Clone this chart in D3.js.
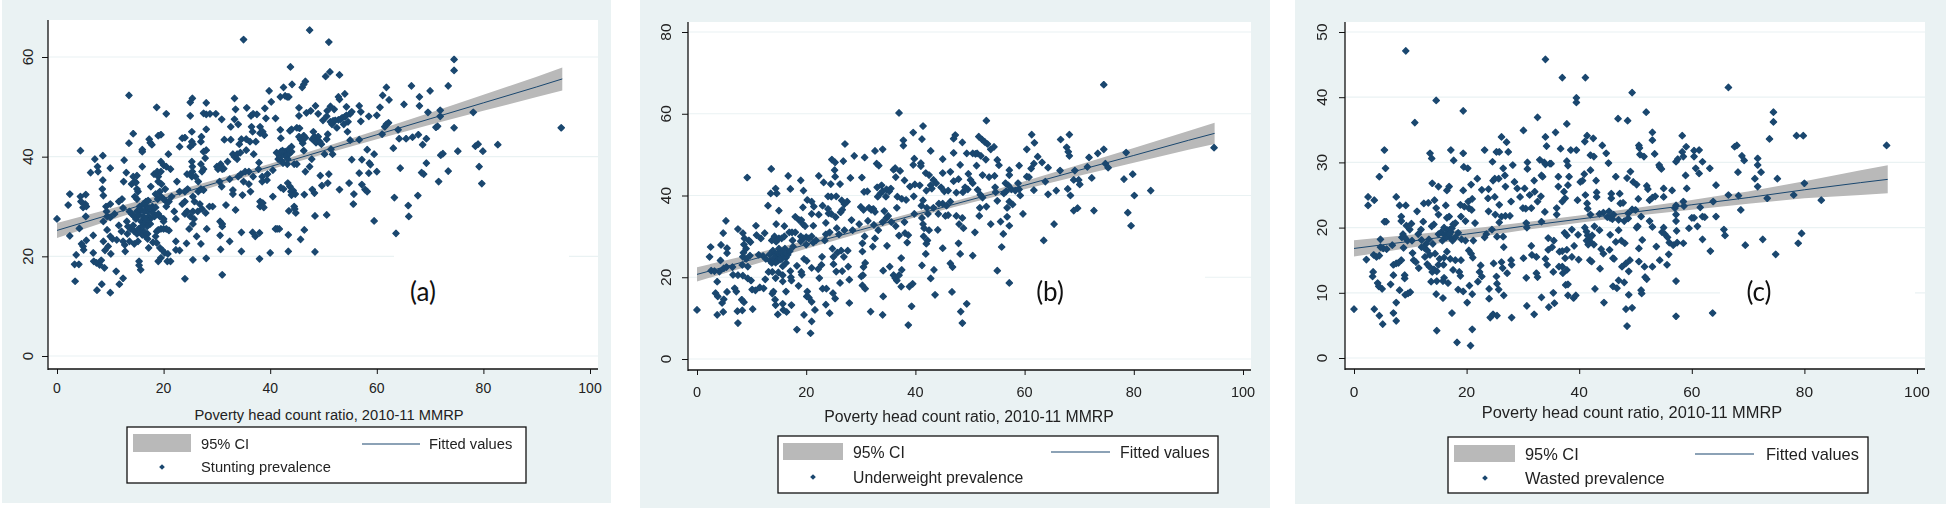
<!DOCTYPE html>
<html><head><meta charset="utf-8">
<script src="https://cdn.jsdelivr.net/npm/d3@7/dist/d3.min.js"></script>
<style>html,body{margin:0;padding:0;background:#fff}svg{display:block;filter:blur(0.35px)}text{font-family:"Liberation Sans",Arial,sans-serif;fill:#222}</style>
</head><body><div id="c"></div>
<script>
const xTicks=[0,20,40,60,80,100];
const xTitle="Poverty head count ratio, 2010-11 MMRP";
const ciKnots=[0,10,20,30,40,50,60,70,80,90,94.8];

const fitA=[25.2,28.4,31.6,34.8,38,41.2,44.4,47.6,50.8,54,55.6];
const ciLowA=[23.7,27.25,30.75,34.15,37.4,40.5,43.5,46.4,49.2,51.95,53.3];
const ciHighA=[26.7,29.55,32.45,35.45,38.6,41.9,45.3,48.8,52.4,56.05,57.9];
const ticksA=[0,20,40,60];
const stunting=[[0,27.5],[2.1,30.3],[2.4,32.5],[2.4,24.1],[3.4,15],[3.6,20.3],[3.3,18.4],[4.1,18.4],[4.2,25.6],[4.4,41.2],[4.4,32],[4.5,31],[4.9,29.8],[5.4,32.4],[5.3,30.5],[5.4,28],[5.5,30],[4.6,22.5],[4.9,22],[5,21.3],[5.5,23.2],[6.3,36.8],[6.8,24.2],[6.8,20.7],[6.9,19],[7.1,39.5],[7.4,18.7],[7.5,13.2],[7.6,38],[7.7,37],[8,18.3],[8.3,19.2],[8.4,14.4],[8.5,33.5],[8.6,40.2],[8.6,35.3],[8.7,32.2],[8.7,27],[8.9,17.7],[8.7,23],[9,21.2],[9.2,30],[9.3,29],[9.4,28],[9.4,25.3],[9.6,22],[10,37.7],[10,30.5],[10,27.8],[10,24],[10.1,20.5],[10,12.7],[10.4,23.5],[10.8,28.5],[11.2,23.3],[11.1,17],[11.6,26.2],[11.6,31],[11.7,14.4],[12.1,25],[12.2,31.5],[12.4,29.7],[12.4,23],[12.4,15.6],[12.5,35],[12.6,39.3],[12.7,22.3],[12.8,21],[13,36.8],[13.1,27],[13.2,24.5],[13.5,52.3],[13.5,42.7],[14.3,44.6],[14,34.5],[14.3,36],[14.6,35],[14.8,34.8],[15,36.2],[15,33.5],[15.2,33],[14.6,32],[15,31.5],[13.6,29],[14,28.5],[14.5,28],[14.8,27.5],[15,29],[15.4,28.3],[15.8,27],[13.3,26],[13.8,25.5],[14.3,26.2],[14.5,25],[15,24.5],[15.3,25.5],[15.7,25],[16,24.3],[16.3,25],[16.6,24],[17,24.5],[17,23.5],[13.6,23],[14.5,22.5],[15.2,23],[15.4,19],[15.4,18.2],[15.7,17.3],[16,38],[16,41.4],[16,41],[16.7,31],[16.8,30],[17,29],[17.2,28],[17.5,27.5],[17,27],[17.5,26.5],[17.9,30],[18,29.5],[18,28.7],[18.3,28],[18.5,29.8],[15.5,30],[15.8,29.3],[16.2,30.5],[16.4,29],[16.2,28],[16.6,27.5],[16.3,26.5],[16.9,26],[15.9,26],[17.3,29.7],[17.3,43.5],[17.5,42.8],[17.8,42.4],[17.1,31.2],[17.6,34],[18.2,36.5],[18.8,37],[19,36],[19,35],[19.5,37],[19.6,34.5],[19.3,33],[18.9,31.5],[18.5,32.5],[19.5,32],[20,31.5],[20.5,31],[20.3,33.5],[18.7,49.9],[19,44.2],[19.5,44.4],[20.5,48.6],[20.9,40.5],[19.5,39],[20,38.3],[20.5,38],[21.3,37.5],[19,28.5],[19.3,28],[20,27.5],[20,27],[20.5,30],[21,31],[21.5,32],[18.7,25],[19,25.3],[19.5,25.5],[20,25.5],[20.5,25.5],[21,25.2],[18.5,24],[18,22.8],[18.7,22.7],[17.2,21.7],[19.3,21.7],[19.8,21.2],[20.2,20.7],[20.8,20.5],[19,19],[19.5,19.7],[20.7,19],[21.3,19],[22,29],[22.3,27.5],[22.5,35],[22.3,23],[22.3,21.3],[23,21.2],[23,42],[23,33],[23.5,30.5],[24,33],[24,31],[24,28.5],[23.5,43.7],[24,43.8],[24.5,33.5],[24.4,36.5],[25,36.5],[25.3,36],[24.3,22.6],[24,15.5],[24.4,29],[25,28],[25,42],[25.3,43],[25.5,42.5],[25.3,45],[25,50.9],[25.4,51.7],[25,48.2],[25.3,39],[25.4,38],[25.4,37],[26,36],[25.5,32],[25.8,31],[25.5,29],[25.7,27.5],[25.5,26.5],[24.8,25.5],[25.5,19.3],[26.4,29],[26.5,35],[26.5,33],[26.2,24],[27.1,44],[27,43],[27,38.5],[27.2,37],[27.5,37.5],[27,33.5],[27.5,33.3],[26.8,30.5],[27.2,29.5],[27,22.5],[27.5,41],[27.8,39.7],[27.5,48.7],[28,48.5],[28,50.8],[28,45.5],[28,41.3],[28,19.6],[28.1,25.5],[27.9,28.7],[28.7,48.6],[28.6,30],[29.2,30],[29.8,48.6],[30,38],[30.2,37.5],[30.7,38.5],[31,37.5],[30.5,35],[30.9,34],[30.6,27],[31,26.5],[31,26],[30.6,24.2],[30.7,21.4],[31,16.3],[30.9,47.5],[31.3,37.6],[31.4,43.4],[31.7,30.3],[32.4,23],[32.4,35.5],[32,39],[32.6,43.4],[32.6,46],[33,40.5],[33,33.3],[33,32.5],[33.3,40],[33.3,47.5],[33.5,49.5],[33.3,51.7],[33.5,29.3],[33.8,40.5],[33.8,39.5],[34,46.5],[34,36],[34.2,42.5],[34.4,40.8],[34.6,43.5],[34.5,36.5],[34.8,32.3],[34.6,24.8],[34.6,21],[35,63.5],[35,35],[35.3,37],[35.5,43.5],[35.5,41.3],[35.6,49.8],[36,34.5],[36,37],[36.2,43],[36.3,33],[36.4,48.2],[36.5,46],[36.7,45],[36.7,24.8],[36.8,48.6],[36.8,36],[36.9,40.5],[37.3,43],[37.2,24],[37.5,48.5],[37.8,37.5],[37.9,38.8],[38,24.7],[38,19.5],[38.1,46],[38.1,44.7],[38.1,31],[38.1,30],[38.6,30.7],[38.8,29.8],[38.5,36],[38.5,35],[38.6,45],[38.9,44.3],[39,49.7],[39.2,47.7],[39.5,36.5],[39.4,35.3],[39.8,53.2],[40,20.7],[40.2,51],[40.5,32],[40.5,37.3],[41,47.7],[41,25.5],[41.2,40.8],[41.3,25.5],[41.7,25.5],[41.9,52],[42,33.8],[41.9,45.4],[42,43.7],[42.5,33.5],[42.6,40.5],[42.8,41],[43,40],[43.3,39.5],[43.2,38.5],[43.5,40.5],[43.5,41.5],[44,42],[44,41],[44,45.5],[43.7,45.2],[42.8,52.2],[43.2,52],[43.5,52],[43.4,24.3],[43.4,21],[43.3,34.7],[43.7,34],[43.9,33],[44,32.3],[44.3,33.2],[44.7,32.5],[44.5,30],[44.6,29.5],[44.5,38.5],[45,38.5],[45,45.8],[45.5,45.7],[45.7,23.4],[45.4,49.8],[45.4,48.2],[44.1,54.5],[42.5,53.9],[43.8,58],[46,53.9],[46.6,55.1],[43.5,29.1],[44.8,28.7],[41.5,39.5],[41.8,40],[42.1,39.2],[42.3,41.2],[42.4,38.7],[42,41],[45.4,44],[45.7,43.5],[46,43.2],[46.3,44.2],[46.6,43.8],[46.1,42.7],[46.3,41.2],[46.3,54.5],[46.8,48.8],[46.4,32.4],[46.4,25.3],[46.6,37],[47.4,65.4],[47.6,49.2],[47.4,38],[47.8,39.5],[47.9,43.5],[47.9,33.4],[48.3,32.7],[48.1,45],[48.3,44],[48.5,50.2],[48.5,43.2],[48.6,42.8],[48.4,28.1],[48.4,20.9],[49,48.6],[49.3,43],[49,44],[49.6,42.5],[49.9,47.3],[49.7,34.2],[49.4,36.2],[50.6,48.1],[50.7,49.2],[50.6,43.5],[50.2,40.5],[50.6,28.3],[50.8,34.7],[51,36.5],[51,63],[51.2,57],[50.4,56.1],[53,56.4],[51.3,50.1],[50.8,44.5],[51.4,41.5],[51.7,40.5],[51.3,47],[51.6,46.5],[51.8,47.2],[52,49.5],[52.2,47.3],[52.5,45.8],[52.8,52],[53,51.5],[52.8,47.4],[53.2,47.5],[53,33.4],[53.5,47.8],[53.8,46.5],[54,52.6],[54,48],[54.3,48.3],[54.3,50],[54.6,47],[54.8,34.7],[54.5,45],[55,43.3],[55,48.6],[55.3,39.4],[55.3,49],[55.6,30.5],[55.7,32.5],[56.7,50.2],[57,49],[57,47.1],[56.7,43.4],[57.2,39.4],[56.7,36.7],[57.2,34.4],[57.8,33.4],[58.2,33],[58.5,48.1],[58.2,41.4],[58.6,38.7],[58.8,38.4],[58.5,36.7],[59.5,40.5],[59.5,27.1],[60,37],[60,48.3],[60.6,49.9],[61.1,52.3],[61.8,53.9],[62.3,51.4],[63.1,41.7],[63.3,31.8],[63.6,24.6],[64,45.4],[64.4,37.7],[64.2,43.6],[65.1,50.5],[65.5,43.6],[65.9,30.2],[66,28],[66.5,54.2],[66.7,43.9],[67.8,44.4],[67.7,32.2],[68,52],[68,50.2],[68.6,42.4],[69.3,43.6],[68.4,36.8],[68.8,36.5],[69.3,38.7],[69.6,48.9],[70,53.2],[71.1,45.9],[71.4,46.1],[71.9,49.3],[71.9,48.1],[71.6,35],[72,40.3],[72.4,40.6],[73.4,37.1],[73.4,54.2],[74.5,59.5],[74.5,57.3],[74.5,45.8],[75.2,41.1],[78.1,48.9],[78.5,42.1],[79,42.5],[79.2,38],[79.7,34.6],[79.9,41.1],[82.7,42.4],[94.6,45.8],[61,44.5],[61.5,46],[61.8,46.5],[62.2,46.8]];

const fitB=[20.7,24.3,28,31.6,35.3,38.9,42.5,46.2,49.8,53.5,55.2];
const ciLowB=[18.95,22.95,27,30.85,34.65,38.15,41.5,44.85,48,51.2,52.6];
const ciHighB=[22.45,25.65,29,32.35,35.95,39.65,43.5,47.55,51.6,55.8,57.8];
const ticksB=[0,20,40,60,80];
const underweight=[[0,12],[2.3,25],[2.5,27.4],[3.7,10.8],[3.7,18.9],[3.4,16.1],[3.8,15.3],[2.6,21.6],[3.2,21.5],[4.4,27.9],[4.3,24.1],[4.1,21.4],[4.8,30.8],[5.3,33.8],[5.5,27.1],[5.5,25.9],[4.8,11.5],[4.6,13.7],[4.9,14.6],[5.5,16.4],[5.4,22.5],[4.9,22.2],[6.5,22.5],[6.6,20.6],[6.9,17.3],[7.2,16.5],[7.5,20.5],[7.5,8.8],[7.5,31.8],[7.4,11.7],[8.3,11.9],[8.2,14.5],[8.6,13.9],[8.4,20.4],[8.3,23],[8.4,25],[8.5,26],[8.6,28],[8.7,29.5],[8.4,30.8],[9.2,44.4],[9,27],[9,24.5],[9.3,22.6],[9.3,19.7],[9.5,29],[9.7,25.3],[9.8,28.6],[9.9,19.2],[10.1,17],[10.2,12.2],[10.8,32.6],[10.9,30.3],[10.7,16.8],[11.3,25.5],[11.5,17.5],[11.7,29.5],[12.1,25.2],[12.2,17.3],[12.4,30.8],[12.5,19.5],[12.6,24.5],[13,37.5],[13.1,21.3],[13.3,25.6],[13.4,24],[13.6,46.5],[13.5,40.5],[13.7,29],[13.7,23.5],[13.8,21.3],[13.8,16],[14,16.5],[14.4,41.7],[14.6,40.5],[14.5,33],[14.2,30],[14.5,28.7],[14.3,25.8],[14.5,24.7],[14.7,25.5],[14.9,25.9],[15,36.3],[15,29.5],[15,27],[14.9,21.2],[14.4,19.8],[14.3,14.5],[14.4,13.2],[14.8,10.9],[15.1,26.1],[15.3,25.5],[15.5,29.5],[15.5,24.5],[15.7,22.7],[15.7,20.5],[15.7,19],[15.7,13.5],[15.8,12],[13.9,26.5],[14.1,24.8],[14.8,24],[15.2,24.3],[15.6,26],[16,25.4],[16.3,24.8],[16.6,25.5],[14.4,23.6],[16,32.5],[16,30],[16.1,27],[16.2,26.2],[16.3,23.5],[16.3,16.5],[16.4,11.5],[16.7,44.8],[16.9,31],[17,26.4],[17.1,41.6],[17.1,21.5],[17.2,20],[17.4,31],[17.5,29],[17.6,27.5],[17.3,19.2],[17.3,13.2],[18,34.8],[18,31],[18.3,22.8],[18.3,7.2],[18.7,34],[18.6,17.9],[19,43.7],[19.1,34],[19,30],[19,28.8],[19.1,21.3],[19.2,20.6],[19.4,37.1],[19.5,41.2],[19.4,33],[19.5,29.5],[19.6,24.5],[19.6,10.8],[19.8,32.5],[20,29.8],[20,28],[20.1,24],[20.1,15.3],[20.2,38.9],[20.2,16.5],[20.5,29.5],[20.5,15],[20.8,6.3],[21,38.5],[21,35.5],[21,30],[21,22.3],[21,14],[21,9.2],[21.3,32.6],[21.3,28.5],[21.4,37.3],[21.6,12],[21.8,29],[22.2,22],[22.3,44.8],[22.3,35.3],[22.4,19.8],[22.8,23],[22.9,25],[23,17.2],[23.2,43.2],[23,37.5],[23.4,29],[23.6,33.3],[23.6,30.5],[23.7,17.2],[23.6,13.3],[24,39.8],[24,36.7],[24.1,35.6],[24.3,31],[24.3,11.2],[24.5,42.8],[24.7,48.8],[24.6,39.7],[24.6,35.5],[24.8,27],[24.9,16.1],[25,25],[25,23.2],[25.2,46.2],[25.3,48.1],[25.3,44.6],[25.5,39.8],[25.4,34.7],[25.5,21.4],[25.3,14.8],[25.6,32],[25.7,26],[26,30.5],[26.2,42.8],[26.2,18.6],[26.3,35.9],[26.5,38.8],[26.4,26.5],[26.6,36.5],[26.6,21.5],[26.8,48.4],[27,37.9],[27,31.5],[26.9,25],[27.1,52.6],[27.5,38.5],[27.6,26.5],[27.7,22.6],[27.9,19.4],[27.9,13.7],[28.1,44.3],[28.3,34],[28.5,31.5],[28.8,49.7],[29.7,33],[30,37.2],[30.2,44.4],[30.1,20.2],[30.3,26.3],[30.3,28.3],[30.3,18],[30.4,20.5],[30.6,40.9],[30.5,36.5],[30.5,22.5],[30.7,49.3],[30.7,30],[30.8,23.5],[30.8,17.2],[31.2,41],[31.3,33.8],[31.5,37],[31.8,11.6],[31.9,36.5],[32.2,27.5],[32.3,36.7],[32.4,32.8],[32.6,50.9],[32.6,29.5],[32.6,36],[32.9,47.8],[33.3,47.3],[33,42],[33.1,39.7],[33.2,31.5],[33.6,40.5],[33.8,42.5],[34,51.3],[34,41],[34,33.5],[34.1,21.6],[34,10.8],[34.1,15.3],[34.3,36.2],[34.6,39.7],[34.7,41.5],[34.7,34.5],[34.8,27.7],[35,35],[35.2,41],[35.3,22.6],[35.5,41.7],[35.6,33.5],[36,46.3],[36,20.5],[36.3,46.7],[36.4,44.5],[36.4,32.5],[36.3,19.8],[36.6,19.2],[36.7,39.7],[36.6,37],[37,60.2],[37,30.2],[37,20.5],[37.2,46],[37.4,24.7],[37.4,17.7],[37.5,39.2],[37.5,21.8],[37.8,53.5],[37.8,52.2],[38,43.7],[38,33.5],[38.1,30.8],[38.3,38.9],[38.7,30.3],[38.5,28.5],[38.7,8.3],[38.9,17.7],[39,42.2],[39.3,12.9],[39.5,18.4],[39.6,55.4],[39.6,47.5],[39.8,49],[39.7,39.8],[39.9,42.7],[39.8,35.5],[40.8,42.5],[41,47.9],[41,47.2],[41.1,37.5],[41.2,53.8],[41.2,34.5],[41.2,22.9],[41.4,57],[41.4,38.8],[41.4,33],[41.5,30],[41.6,32],[41.9,25.7],[41.9,45.5],[42,41.2],[42.1,37],[42.3,35.5],[42.2,29],[42,28.2],[42.5,45],[42.5,31.5],[42.8,50.9],[42.8,42.5],[42.8,19.7],[43,41.7],[43.3,43.8],[43.3,37],[43.4,21.8],[43.6,15.7],[43.8,43],[44.1,31.6],[44.2,35.5],[44.3,38],[44.7,42],[45,48.9],[45,45.5],[45,27.1],[45,38],[45.3,41],[45.5,35],[45.7,37.5],[46,41.2],[46,35.2],[46.4,38.5],[46.4,45.8],[46.4,23.4],[46.7,16.4],[46.8,22.5],[47,53.9],[47,50.4],[47,43.5],[47.3,54.8],[47.5,40.7],[47.5,35],[47.9,44],[47.9,28.3],[48.2,47.5],[48.2,25.7],[48,33],[48.3,11.6],[48.6,53],[48.6,8.8],[48.6,34.5],[48.7,40.8],[48.8,32],[49.1,42],[49.4,50.3],[49.4,13.5],[49.6,41.5],[49.7,45.3],[50.1,43.8],[50.5,50.3],[50.5,25.3],[50.5,43],[50.9,31],[51,50.2],[51.2,47.3],[51.3,50.3],[51.4,41.4],[51.6,54.4],[51.7,35],[51.8,37],[51.9,40.2],[52,49.7],[52.2,53.7],[52.3,45],[52.3,39.5],[52.7,53.1],[52.9,48.8],[53,58.3],[53,37.3],[53.2,52.6],[53.5,44.5],[53.8,51.3],[53.8,33],[54.4,51.9],[54.5,44.8],[54.6,42],[54.7,40.8],[55,48.7],[55,38.7],[55,21.6],[55.3,47.4],[55.6,33.6],[55.8,27.4],[56.1,30.6],[56.2,40.5],[56.5,43],[56.6,41],[56.8,37],[56.8,34.8],[57,42.5],[57.2,46.2],[57.2,45],[57.2,38.5],[57.2,32.6],[57.2,18.6],[57.6,41.5],[57.8,37.8],[58.3,41.2],[58.8,43],[59,47.3],[59,41.5],[59.2,40],[59.7,35.5],[60.4,51.3],[60.4,44.6],[60.8,44.5],[61.2,46.6],[61.3,54.9],[61.7,47.8],[61.7,41.3],[61.8,52.9],[62.4,49.5],[63.2,48.1],[63.5,29],[63.8,43.4],[64.3,46.8],[64.3,40.3],[65.4,33],[65.8,41.2],[66.5,46.1],[66.6,53.7],[67.7,51.8],[67.9,41.6],[68,50.7],[68.2,54.9],[68.2,49.7],[68.4,40],[69,36.3],[69,43.8],[69.2,46.1],[69.7,36.9],[69.9,43.8],[70.1,42.7],[71.5,47],[71.8,49.3],[72.3,44.3],[72.7,36.3],[73.4,50.3],[74.5,67.1],[74.5,51.3],[74.8,47.8],[75.3,46.8],[78.2,44],[78.6,50.5],[78.9,35.8],[79.5,32.6],[79.8,45.2],[80.1,40],[83.1,41.2],[94.7,51.7]];

const fitC=[16.8,17.9,19,20.2,21.3,22.4,23.5,24.6,25.8,26.9,27.4];
const ciLowC=[15.55,16.9,18.25,19.6,20.75,21.8,22.75,23.65,24.5,25,25.25];
const ciHighC=[18.05,18.9,19.75,20.8,21.85,23,24.25,25.55,27.1,28.8,29.55];
const ticksC=[0,10,20,30,40,50];
const wasted=[[0,7.5],[2.2,15.1],[2.5,24.7],[2.5,23.4],[3.3,12.5],[3.4,13.2],[3.5,15.8],[3.6,24.2],[3.6,7.5],[4,15.5],[4.2,11.5],[4.4,11],[4.5,6.5],[4.5,15.7],[4.5,27.8],[4.7,18.2],[4.7,17],[5,10.6],[5.1,5.2],[5.2,16.8],[5.4,31.9],[5.4,20.9],[5.6,29.1],[5.7,20.9],[5.8,16.7],[6.5,11.3],[6.8,17.3],[7,12.7],[7,6.9],[7,14.3],[7.5,14.5],[7.5,5.7],[7.5,8.5],[7.5,24.7],[7.9,14.6],[8.1,23.4],[8.1,10.4],[8.4,21.7],[8.4,21],[8.4,15],[8.5,18.5],[8.7,19],[8.8,16.9],[9,18.5],[9,12.2],[9,12.7],[9.1,9.7],[9.2,47.1],[9.2,23.4],[9.3,20.3],[9.5,18],[9.6,9.9],[9.9,19.7],[10,10.1],[10.2,20.6],[10.3,18],[10.4,16.1],[10.6,15],[10.8,36.1],[11,14.7],[11.2,22.5],[11.4,19],[11.5,13.8],[11.9,19.7],[12,18.1],[12,17],[12.3,20.9],[12.4,23.7],[12.5,16.9],[12.6,15.5],[12.8,17.5],[13,14.4],[13,16.5],[13.2,23.8],[13.3,18.2],[13.5,31.4],[13.4,14],[13.5,15.8],[13.7,11.7],[13.8,30.6],[13.9,26.8],[13.8,20.2],[13.9,13.2],[14,17.5],[14.3,24.2],[14.2,20.5],[14.2,13.6],[14.4,16],[14.6,39.5],[14.6,23],[14.7,4.2],[14.6,9.8],[14.7,13.3],[14.7,11.8],[15,26.3],[15,22],[15,19],[15,14.3],[15.2,15.2],[15.5,19.3],[15.7,18],[15.8,9.2],[15.8,11.8],[15.9,14.3],[16,15.4],[16,12.3],[16,20],[16.2,18.8],[16.6,19.6],[16.9,18.6],[17.2,19.3],[17.4,19.9],[16.3,23.4],[16.3,19],[16.4,18.5],[16.5,25.7],[16.5,21.5],[16.5,16.3],[16.7,11.5],[16.9,26.3],[16.9,21.7],[17,19.7],[17,19],[17.2,31.9],[17.1,15.2],[17.4,6.9],[17.5,18],[17.6,13.5],[17.6,20.5],[17.7,30.3],[18,18.5],[18,15],[18,20.7],[18.3,2.4],[18.5,19.2],[18.5,10.5],[18.7,13.2],[18.9,23.5],[18.9,12.6],[19,21.7],[19.1,18.2],[19,15],[19.4,37.9],[19.4,31.4],[19.4,25.7],[19.4,10.2],[19.5,29.3],[19.6,23.2],[19.8,21],[19.8,18],[20.1,8.5],[20.2,29.1],[20.3,24],[20.4,23],[20.4,16.5],[20.5,11.1],[20.7,1.9],[20.8,26.6],[20.8,16],[20.9,22.7],[21,24.4],[21,4.4],[21,9.8],[21.1,15.4],[21.2,18],[21.5,20.7],[21.9,27.5],[22,11.7],[22.3,13.2],[22.5,14.2],[22.7,25.8],[22.7,12.5],[23.2,31.9],[23.2,18.5],[23.5,19],[23.8,24.5],[23.9,25.9],[23.9,22.5],[24,10.6],[24,9.1],[24.2,6.2],[24.5,19.7],[24.6,30.1],[24.7,27.2],[24.7,6.7],[24.8,14.5],[25,27.5],[25,24.7],[25.1,22],[25.3,31.6],[25.3,12.5],[25.4,18.6],[25.4,11.4],[25.4,6.5],[25.8,31.6],[25.7,27.5],[25.8,23.5],[25.8,20.8],[25.7,10.5],[26.2,33.9],[26.2,14.7],[26.2,21.7],[26.4,13.8],[26.5,29.1],[26.5,18.6],[26.6,17],[26.6,9.6],[26.8,28],[26.9,21.8],[26.9,26.3],[27.1,33.1],[27.2,13],[27.4,31.6],[27.7,21.8],[27.9,24],[27.9,15],[28,14.3],[28,6.2],[28.2,29.6],[28.5,27],[29,26],[29.5,24.7],[30,23],[30.1,34.9],[30.1,15.3],[30.3,26],[30.5,22.9],[30.6,20.7],[30.6,12.3],[30.7,20],[30.7,8],[30.8,30],[30.8,29],[31.2,25],[31.5,23],[31.5,17.2],[31.6,15.8],[32,27.2],[32,6.7],[32.1,25.5],[32.4,15.5],[32.4,13],[32.6,36.9],[32.6,24],[32.6,12.4],[33,30.4],[33.2,24.8],[33.3,9.3],[33.3,28],[33.3,20.9],[33.5,27.8],[33.8,30],[33.9,22.4],[34,45.8],[34,33.9],[34,29.7],[34,15.2],[34.2,32.5],[34.3,14.3],[34.5,18.4],[34.5,16.6],[34.6,7.8],[34.8,29.8],[35,29.8],[35.2,17],[35.4,13.2],[35.4,10],[35.5,18],[35.6,8.4],[35.8,34.6],[36,23],[36,22],[36.3,27.8],[36.3,26.3],[36.4,14],[36.5,16.3],[36.7,32.1],[37,43],[37,24],[37,16.4],[37,14],[37.1,13],[37.3,25.5],[37.4,19.2],[37.5,24.5],[37.5,15.3],[37.6,11.2],[37.8,35.9],[37.8,30.2],[37.8,18.8],[37.8,16.6],[37.8,13.5],[38,29.5],[38,26.5],[38,9.6],[38,11.3],[38.2,27.8],[38.5,31.9],[38.7,15.5],[38.7,19.7],[39,9.2],[39.1,17.2],[39.4,9.6],[39.5,39.9],[39.5,39.2],[39.5,31.9],[39.7,24.2],[39.8,18.9],[39.9,15.1],[40.2,27],[40.6,27.2],[40.9,28.2],[41,33.2],[41,20],[41.1,43],[41.1,25],[41.3,19.4],[41.4,34.1],[41.4,23.7],[41.5,22.9],[41.5,18.8],[41.7,18.2],[41.9,15],[42,31.1],[42,28.8],[42,22],[42,18.5],[42,17.8],[41.3,18],[41.6,17.4],[42.3,18.8],[42.2,14.8],[42.5,33.7],[42.6,30.9],[42.7,20.2],[42.6,17.4],[42.8,10.6],[43,27.2],[43.1,25.4],[43.1,24.7],[43.6,22.1],[43.6,19.6],[43.7,13.7],[43.9,16.7],[44.1,32.6],[44.3,22.3],[44.3,16],[44.4,8.5],[44.8,31.4],[45,21.6],[45.2,29.9],[45.3,22.5],[45.5,21.5],[45.5,18.9],[45.4,16.6],[45.7,25.2],[45.7,24.5],[45.9,21.3],[46,15.3],[46,11],[46.1,22],[46.2,15.2],[46.5,27.8],[46.5,17.8],[46.7,10.7],[46.9,36.7],[47,21.2],[47,19.6],[47,11.9],[47.2,25.2],[47.3,23.7],[47.5,18],[47.6,14],[47.8,23.8],[48,11.6],[48.1,17.6],[48,21],[48.3,14.5],[48.3,7.5],[48.5,27.6],[48.5,4.9],[48.6,36.4],[48.7,22.2],[48.7,21.4],[48.8,13.3],[48.8,9.7],[49,15],[49.1,28.6],[49.4,40.7],[49.4,22.8],[49.4,7.7],[49.6,27],[50,22.7],[50.2,26.6],[50.2,20],[50.4,20.2],[50.5,24.4],[50.6,16.8],[50.6,14.8],[50.6,32.6],[50.7,32.2],[50.8,31.2],[51,21.7],[51,10.4],[51.1,9.9],[51.2,18.1],[51.5,30.9],[51.6,14],[51.7,12.4],[51.9,37.7],[52,26.4],[52,12.1],[52.2,25.9],[52.5,24.2],[52.5,21],[53,34.6],[53,33.4],[53,24.6],[53,20.1],[53,14],[53.4,31.3],[53.5,24.8],[53.7,17.1],[54.2,29.6],[54.3,29.3],[54.3,15],[54.6,29],[54.7,19.3],[55,26],[55,24.7],[55,20],[55.2,19],[55.6,14.3],[55.7,18.5],[55.9,15.9],[56,17.7],[56.5,25.7],[56.7,17.3],[57,23],[57.2,30.1],[57.2,23.4],[57.2,22],[57.3,19.5],[57.2,21],[57.2,11.8],[57.2,6.4],[57.4,17.7],[57.5,30.5],[58.3,34.1],[58.3,31.6],[58.5,30.9],[58.5,24],[58.6,23.3],[58.5,17.6],[58.9,28],[59,32.4],[59.1,26],[59.5,19.9],[60,21.5],[60.4,31.8],[60.4,30.9],[60.4,21.5],[60.7,29.1],[61,20.2],[61.3,31.9],[61.3,28.3],[61.5,23.1],[61.9,30.1],[61.9,21.7],[61.9,18.2],[62.3,21.6],[63.2,29.1],[63.3,16.4],[63.7,6.9],[63.8,24],[64.3,26.5],[64.3,21.7],[65.7,19.7],[65.9,18.8],[66.5,41.5],[66.5,25],[67.6,32.4],[68,32.6],[68.2,28.5],[68.3,24.9],[68.7,22.7],[68.9,31],[69.3,30.3],[69.5,17.3],[71.2,27.5],[71.7,30.6],[71.7,29.6],[71.7,26.3],[72.3,28.5],[72.6,18.2],[73.4,24.5],[73.8,33.6],[74.5,37.7],[74.5,36.2],[74.9,15.9],[75.2,27.5],[78.1,25],[78.6,34.1],[78.9,17.6],[79.5,19.1],[79.8,34.1],[80,26.8],[83,24.2],[94.6,32.6]];

const panels=[
 {tag:"(a)",pts:stunting,fit:fitA,lo:ciLowA,hi:ciHighA,yt:ticksA,yDom:[0,60],yRange:[356,57],
  bg:[2,0,609,503],plot:[48,20,598,369],xRange:[57,590],tagAt:[423,292],tickY:388,titleY:415,titleX:329,fs:{tick:14,y:15,txt:14.7},yOff:20,
  leg:{x:127,y:427,w:399,h:56,sw:[133,434,58,18],t1:201,r1:444,r2:467,l:[362,420],t2:429,m:162,name:"Stunting prevalence"},patch:[394,254,175,6]},
 {tag:"(b)",pts:underweight,fit:fitB,lo:ciLowB,hi:ciHighB,yt:ticksB,yDom:[0,80],yRange:[359,32],
  bg:[640,0,630,508],plot:[688,22,1251,370],xRange:[697,1243],tagAt:[1050,292],tickY:392,titleY:416,titleX:969,fs:{tick:14.5,y:15.5,txt:15.8},yOff:22,
  leg:{x:778,y:436,w:440,h:57,sw:[783,443,60,17],t1:853,r1:452,r2:477,l:[1051,1110],t2:1120,m:813,name:"Underweight prevalence"},patch:[1009,258,196,50]},
 {tag:"(c)",pts:wasted,fit:fitC,lo:ciLowC,hi:ciHighC,yt:ticksC,yDom:[0,50],yRange:[358,32],
  bg:[1295,0,651,504],plot:[1345,22,1925,369],xRange:[1354,1917],tagAt:[1759,292],tickY:392,titleY:412,titleX:1632,fs:{tick:15.5,y:15.5,txt:16.4},yOff:23,
  leg:{x:1448,y:437,w:420,h:56,sw:[1454,445,61,17],t1:1525,r1:454,r2:478,l:[1695,1754],t2:1766,m:1485,name:"Wasted prevalence"},patch:[1720,277,195,40]}
];

const svg=d3.select("#c").append("svg").attr("width",1946).attr("height",509);
const BG="#eaf2f3",BLUE="#1a476f",GREY="#b9b9b9";
const mark=d3.symbol().type(d3.symbolSquare).size(20);

panels.forEach(p=>{
  const g=svg.append("g");
  const [bx,by,bw,bh]=p.bg, [px0,py0,px1,py1]=p.plot;
  g.append("rect").attr("x",bx).attr("y",by).attr("width",bw).attr("height",bh).attr("fill",BG);
  g.append("rect").attr("x",px0).attr("y",py0).attr("width",px1-px0).attr("height",py1-py0).attr("fill","#fff");
  const x=d3.scaleLinear().domain([0,100]).range(p.xRange);
  const y=d3.scaleLinear().domain(p.yDom).range(p.yRange);
  g.selectAll("line.grid").data(p.yt).join("line").attr("class","grid")
    .attr("x1",px0).attr("x2",px1).attr("y1",d=>y(d)).attr("y2",d=>y(d)).attr("stroke",BG).attr("stroke-width",1.2);
  const rows=ciKnots.map((k,i)=>({k,fit:p.fit[i],lo:p.lo[i],hi:p.hi[i]}));
  g.append("path").datum(rows).attr("fill",GREY)
    .attr("d",d3.area().x(d=>x(d.k)).y0(d=>y(d.lo)).y1(d=>y(d.hi)));
  g.append("rect").attr("x",p.patch[0]).attr("y",p.patch[1]).attr("width",p.patch[2]).attr("height",p.patch[3]).attr("fill","#fff");
  g.append("path").datum(rows).attr("fill","none").attr("stroke",BLUE).attr("stroke-width",1)
    .attr("d",d3.line().x(d=>x(d.k)).y(d=>y(d.fit)));
  g.selectAll("path.pt").data(p.pts).join("path").attr("class","pt")
    .attr("d",mark).attr("fill",BLUE).attr("stroke",BLUE).attr("stroke-width",1.3).attr("stroke-linejoin","round")
    .attr("transform",d=>`translate(${x(d[0])},${y(d[1])}) rotate(45)`);
  const xa=g.append("g").attr("transform",`translate(0,${py1})`)
    .call(d3.axisBottom(x).tickValues(xTicks).tickSize(5).tickPadding(5));
  xa.select(".domain").attr("d",`M${px0},0H${px1}`).attr("stroke","#111").attr("stroke-width",1.3);
  xa.selectAll(".tick line").attr("stroke","#111");
  xa.selectAll("text").remove();
  g.selectAll("text.xt").data(xTicks).join("text").attr("class","xt")
    .attr("x",d=>x(d)).attr("y",p.tickY).attr("dy","0.35em").attr("text-anchor","middle").attr("font-size",p.fs.tick).text(d=>d);
  const ya=g.append("g").attr("transform",`translate(${px0},0)`)
    .call(d3.axisLeft(y).tickValues(p.yt).tickSize(6));
  ya.select(".domain").attr("d",`M0,${py0}V${py1+1}`).attr("stroke","#111").attr("stroke-width",1.3);
  ya.selectAll(".tick line").attr("stroke","#111");
  ya.selectAll("text").remove();
  g.selectAll("text.yt").data(p.yt).join("text").attr("class","yt")
    .attr("transform",d=>`translate(${px0-p.yOff},${y(d)}) rotate(-90)`)
    .attr("dy","0.35em").attr("text-anchor","middle").attr("font-size",p.fs.y).text(d=>d);
  g.append("text").attr("x",p.titleX).attr("y",p.titleY).attr("dy","0.35em").attr("text-anchor","middle").attr("font-size",p.fs.txt).text(xTitle);
  g.append("text").attr("x",p.tagAt[0]).attr("y",p.tagAt[1]).attr("dy","0.35em").attr("text-anchor","middle")
    .attr("font-size",26).style("font-family","Lato,'Open Sans',sans-serif").style("fill","#111").text(p.tag);
  const L=p.leg;
  g.append("rect").attr("x",L.x).attr("y",L.y).attr("width",L.w).attr("height",L.h).attr("fill","#fff").attr("stroke","#111").attr("stroke-width",1.3);
  g.append("rect").attr("x",L.sw[0]).attr("y",L.sw[1]).attr("width",L.sw[2]).attr("height",L.sw[3]).attr("fill",GREY);
  g.append("line").attr("x1",L.l[0]).attr("x2",L.l[1]).attr("y1",L.r1).attr("y2",L.r1).attr("stroke",BLUE).attr("stroke-width",1.2);
  g.append("path").attr("d",mark).attr("fill",BLUE).attr("transform",`translate(${L.m},${L.r2}) rotate(45) scale(.9)`);
  [[L.t1,L.r1,"95% CI"],[L.t2,L.r1,"Fitted values"],[L.t1,L.r2,L.name]].forEach(t=>{
    g.append("text").attr("x",t[0]).attr("y",t[1]).attr("dy","0.35em").attr("font-size",p.fs.txt).text(t[2]);
  });
});
</script></body></html>
